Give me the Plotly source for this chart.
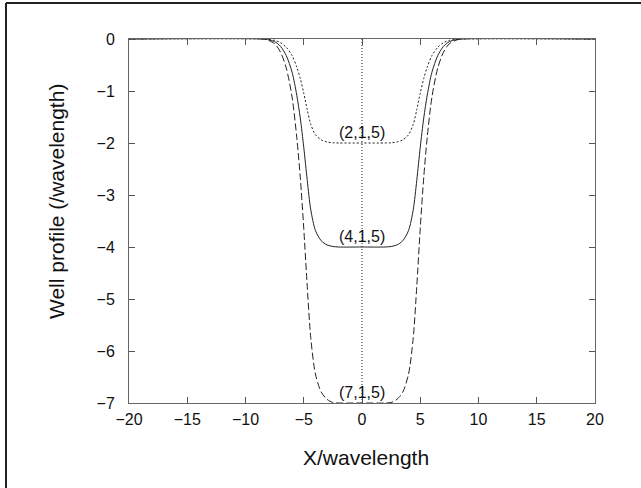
import plotly.graph_objects as go

# Data
x_vals = [-20, -8.5, -8, -7.5, -7, -6.5, -6, -5.6, -5.3, -5, -4.7, -4.4, -4, -3.5, -3, -2.5, -2,
          0, 2, 2.5, 3, 3.5, 4, 4.4, 4.7, 5, 5.3, 5.6, 6, 6.5, 7, 7.5, 8, 8.5, 20]

well_2 = [0, 0, -0.008, -0.026, -0.07, -0.16, -0.32, -0.54, -0.76, -1.04, -1.36, -1.64, -1.84, -1.94, -1.98, -1.996, -2,
          -2, -2, -1.996, -1.98, -1.94, -1.84, -1.64, -1.36, -1.04, -0.76, -0.54, -0.32, -0.16, -0.07, -0.026, -0.008, 0, 0]
well_4 = [0, 0, -0.016, -0.05, -0.14, -0.32, -0.64, -1.08, -1.52, -2.08, -2.72, -3.28, -3.68, -3.88, -3.96, -3.99, -4,
          -4, -4, -3.99, -3.96, -3.88, -3.68, -3.28, -2.72, -2.08, -1.52, -1.08, -0.64, -0.32, -0.14, -0.05, -0.016, 0, 0]
well_7 = [0, 0, -0.03, -0.09, -0.25, -0.56, -1.12, -1.89, -2.66, -3.64, -4.76, -5.74, -6.44, -6.79, -6.93, -6.99, -7,
          -7, -7, -6.99, -6.93, -6.79, -6.44, -5.74, -4.76, -3.64, -2.66, -1.89, -1.12, -0.56, -0.25, -0.09, -0.03, 0, 0]

labels = ["(2,1,5)", "(4,1,5)", "(7,1,5)"]
label_y = [-1.8, -3.8, -6.8]
center_x = [0, 0]
center_y = [0, -7]

x_ticks = [-20, -15, -10, -5, 0, 5, 10, 15, 20]
y_ticks = [0, -1, -2, -3, -4, -5, -6, -7]

ink = "#222222"
fig = go.Figure()
fig.add_trace(go.Scatter(x=center_x, y=center_y, mode="lines",
                         line=dict(color=ink, width=1, dash="1px,2px")))
fig.add_trace(go.Scatter(x=x_vals, y=well_2, mode="lines",
                         line=dict(color=ink, width=1, dash="2px,2px", shape="spline", smoothing=0.8)))
fig.add_trace(go.Scatter(x=x_vals, y=well_4, mode="lines",
                         line=dict(color=ink, width=1, shape="spline", smoothing=0.8)))
fig.add_trace(go.Scatter(x=x_vals, y=well_7, mode="lines",
                         line=dict(color=ink, width=1, dash="7px,3px", shape="spline", smoothing=0.8)))

for t, ly in zip(labels, label_y):
    fig.add_annotation(x=0, y=ly, text=t, showarrow=False,
                       font=dict(family="Liberation Sans, Arial", size=16, color="#111"))

axis_common = dict(showgrid=False, zeroline=False, showline=True, linecolor="#666", linewidth=1,
                   mirror="ticks", ticks="inside", ticklen=6, tickcolor="#555", tickwidth=1,
                   tickfont=dict(family="Liberation Sans, Arial", size=16, color="#111"))

fig.update_layout(
    width=641, height=488,
    margin=dict(l=129, r=46, t=39, b=85),
    paper_bgcolor="white", plot_bgcolor="white",
    showlegend=False,
    xaxis=dict(range=[-20, 20], tickvals=x_ticks, ticklabelstandoff=2, **axis_common),
    yaxis=dict(range=[-7, 0], tickvals=y_ticks, ticklabelstandoff=10, **axis_common),
    font=dict(family="Liberation Sans, Arial", color="#111"),
)

# axis titles
fig.add_annotation(xref="paper", yref="paper", x=(366 - 129) / 466, y=(403 - 458) / 364,
                   xanchor="center", yanchor="middle",
                   text="X/wavelength", showarrow=False,
                   font=dict(family="Liberation Sans, Arial", size=21, color="#111"))
fig.add_annotation(xref="paper", yref="paper", x=(56 - 129) / 466, y=(403 - 202) / 364,
                   xanchor="center", yanchor="middle",
                   text="Well profile (/wavelength)", showarrow=False, textangle=-90,
                   font=dict(family="Liberation Sans, Arial", size=21, color="#111"))

# outer frame (top and left edges)
px0, py0 = (6 - 129) / 466, (403 - 3) / 364
fig.add_shape(type="line", xref="paper", yref="paper", x0=px0, y0=py0, x1=1.2, y1=py0,
              line=dict(color="#222", width=2))
fig.add_shape(type="line", xref="paper", yref="paper", x0=px0, y0=py0, x1=px0, y1=-0.3,
              line=dict(color="#222", width=2))

fig.write_html("out.html")
